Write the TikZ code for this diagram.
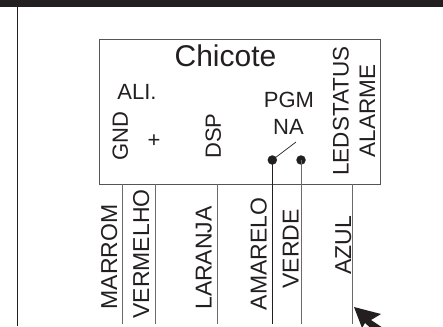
\documentclass[tikz,border=0pt]{standalone}
\usepackage{fontspec}
\setmainfont{Liberation Sans}
\definecolor{ink}{HTML}{231F20}
\definecolor{wiregrey}{HTML}{6A6A6A}
\definecolor{boxgrey}{HTML}{555555}
\tikzset{
  lab/.style={inner sep=0pt,text=ink,text height={0.716*#1pt},text depth=0pt,font=\fontsize{#1}{#1}\selectfont},
  vlab/.style={lab=#1,rotate=90},
  wire/.style={draw=wiregrey,line width=1pt},
  blackwire/.style={draw=ink,line width=1pt},
  contact/.style={circle,fill=ink,inner sep=0pt,minimum size=9.5pt}
}
\begin{document}
\begin{tikzpicture}[x=1pt,y=-1pt]
\useasboundingbox (0,0) rectangle (443,326);
\fill[ink] (0,0) rectangle (443,7);
\draw[ink,line width=1pt] (17.3,7) -- (17.3,326);
\node[draw=boxgrey,line width=1pt,minimum width=281pt,minimum height=144pt,inner sep=0pt,anchor=north west] (box) at (98.7,39.5) {};
\node[lab=30] (title) at (225.5,56) {Chicote};
\node[lab=22] (ali) at (137,92) {ALI.};
\node[vlab=22] (gnd) at (120,136) {GND};
\node[lab=22] (plus) at (154,140) {+};
\node[vlab=22] (dsp) at (213,136) {DSP};
\node[lab=22] (pgm) at (289,100) {PGM};
\node[lab=22] (na) at (288.5,127) {NA};
\node[vlab=22.5] (led) at (340.5,111) {LEDSTATUS};
\node[vlab=22.5] (alarme) at (367,111) {ALARME};
\node[contact] (c1) at (272.3,160) {};
\node[contact] (c2) at (301,160) {};
\coordinate (sw) at (296,142);
\draw[ink,line width=0.7pt] (c1.center) -- (sw);
\node[vlab=23] (marrom) at (109,257) {MARROM};
\node[vlab=23] (vermelho) at (141,254) {VERMELHO};
\node[vlab=23] (laranja) at (203.5,258) {LARANJA};
\node[vlab=23] (amarelo) at (258.5,254) {AMARELO};
\node[vlab=23] (verde) at (290.5,249) {VERDE};
\node[vlab=23] (azul) at (343,245.5) {AZUL};
\coordinate (w1t) at (122,183.5); \coordinate (w1b) at (122,323.7);
\coordinate (w2t) at (155,183.5); \coordinate (w2b) at (155,323.7);
\coordinate (w3t) at (217,183.5); \coordinate (w3b) at (217,323.7);
\coordinate (w5b) at (301,323.7);
\coordinate (w4b) at (272.3,323.7);
\coordinate (w6t) at (352.7,183.5); \coordinate (w6b) at (352.7,323.7);
\draw[wire] (w1t) -- (w1b);
\draw[wire] (w2t) -- (w2b);
\draw[wire] (w3t) -- (w3b);
\draw[blackwire] (c1.center) -- (w4b);
\draw[wire] (c2.center) -- (w5b);
\draw[wire] (w6t) -- (w6b);
\coordinate (tip) at (354,307);
\fill[ink] (tip) -- (381,314) -- (371,320) -- (383,328) -- (376,333) -- (365,323) -- (362,328) -- cycle;
\end{tikzpicture}
\end{document}
